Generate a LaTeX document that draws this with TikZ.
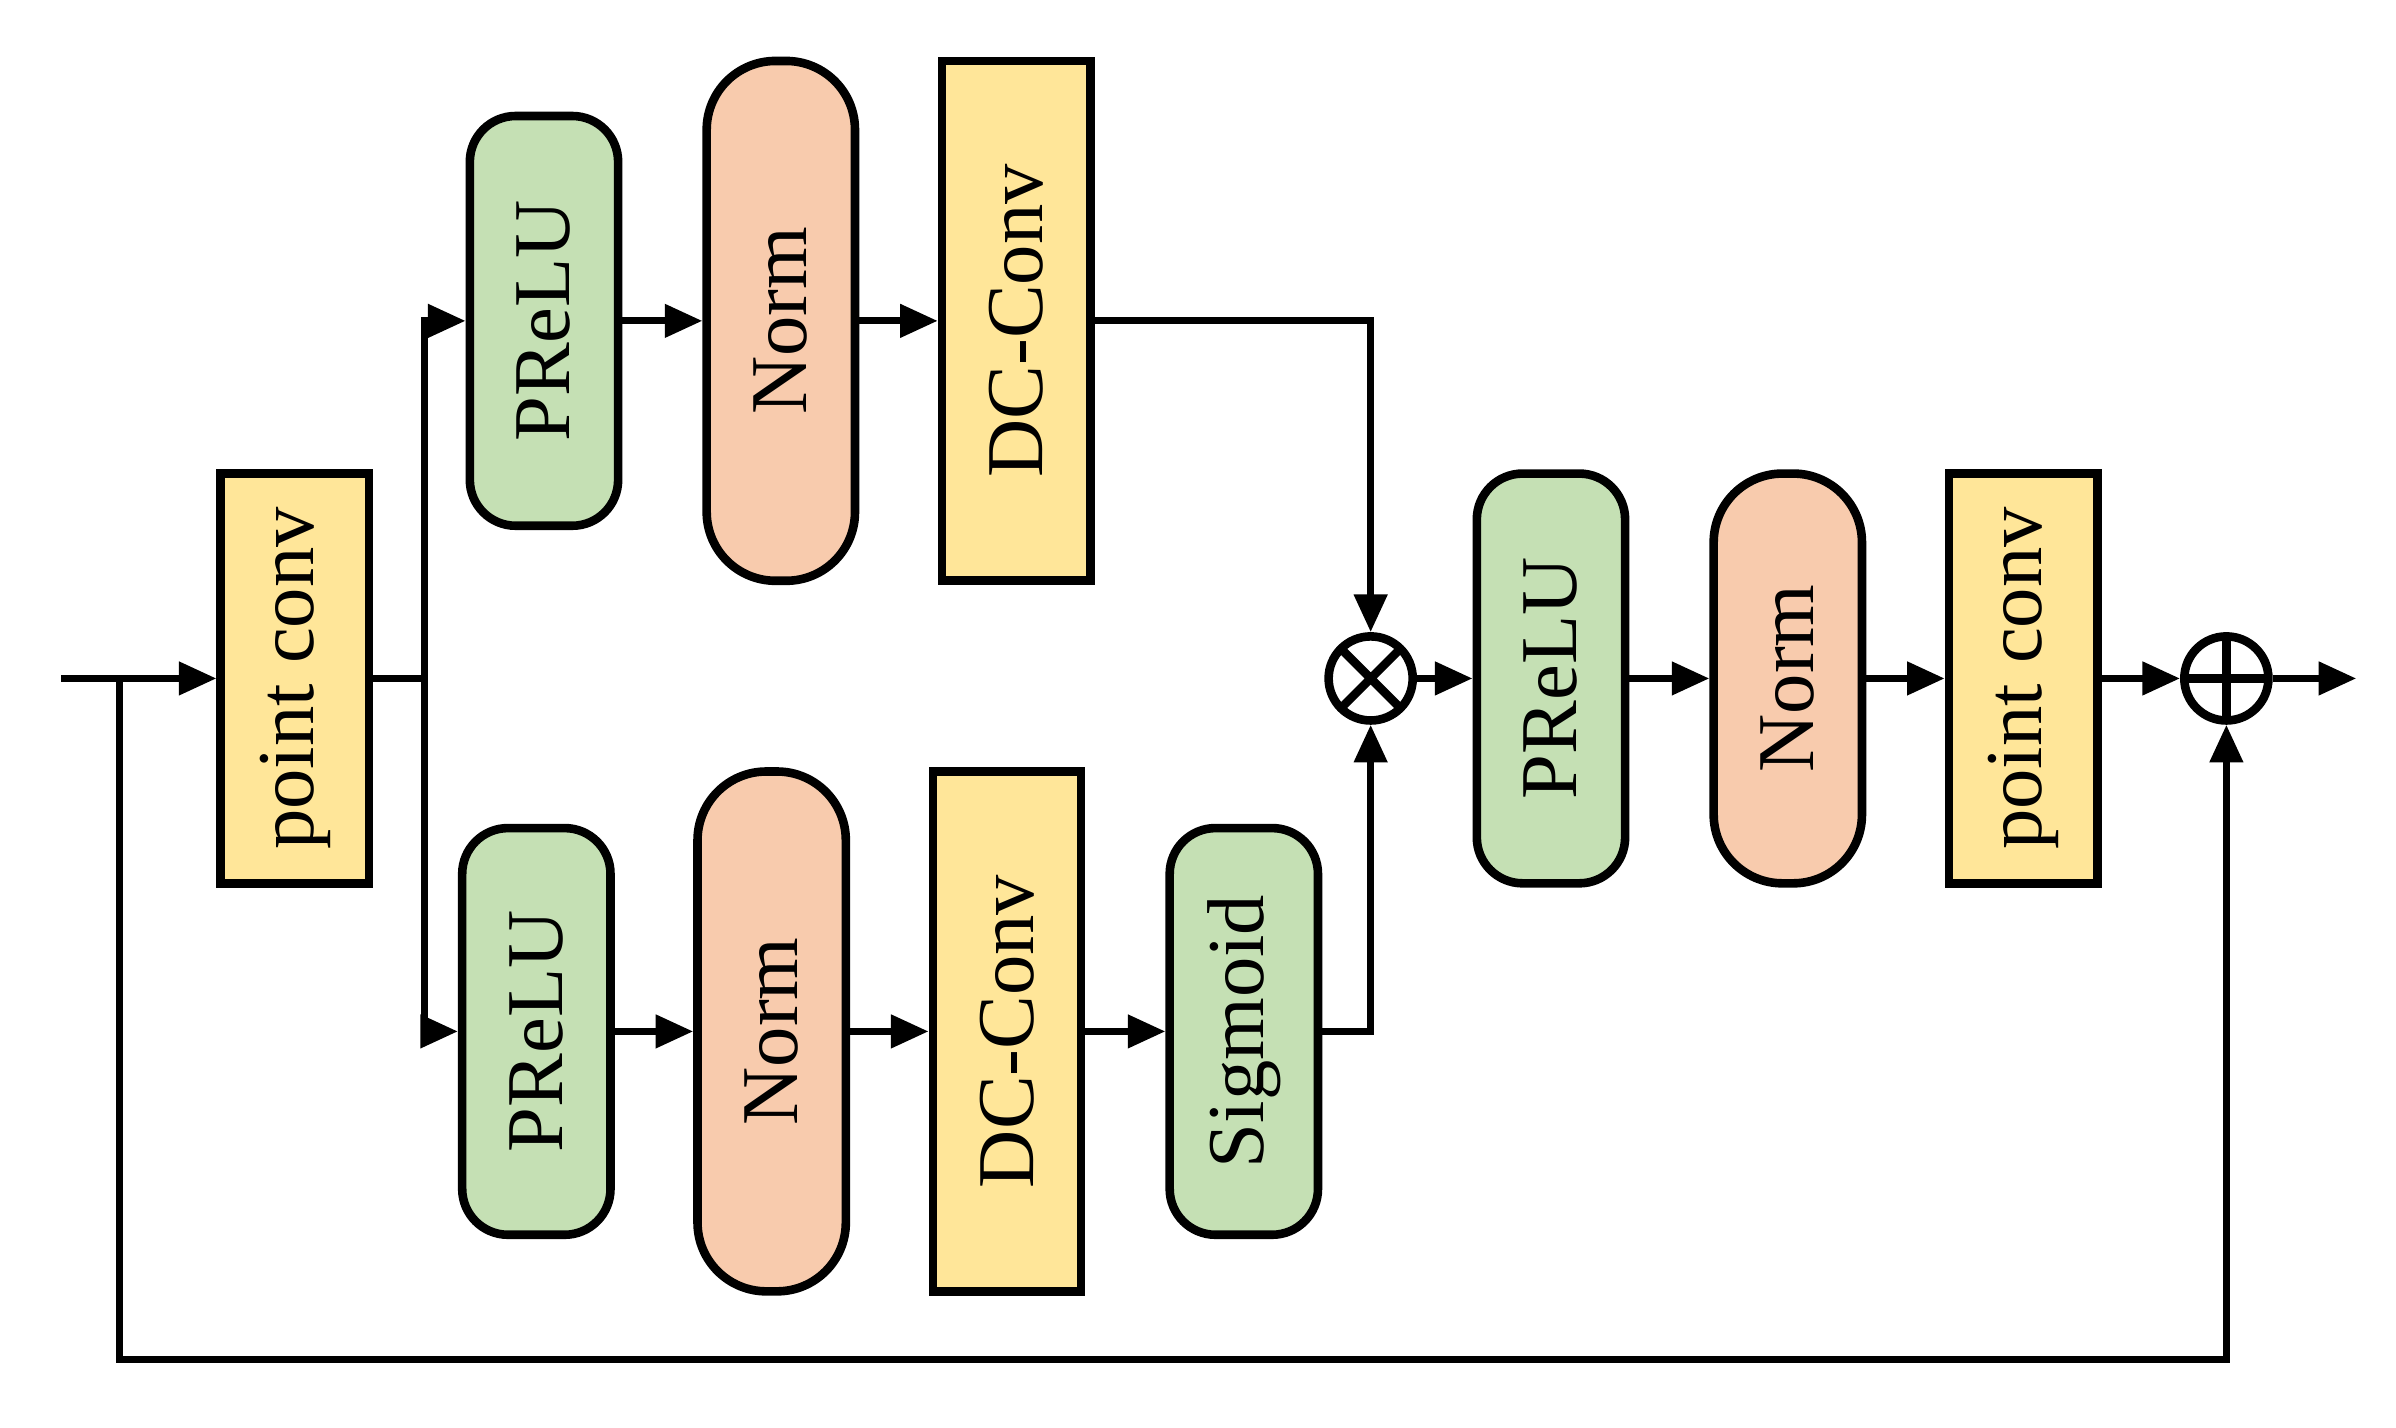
\documentclass[tikz,border=0pt]{standalone}
\usepackage{fontspec}
\setmainfont{Liberation Serif}
\usetikzlibrary{arrows.meta}
\definecolor{cg}{HTML}{C5E0B4}
\definecolor{co}{HTML}{F8CBAD}
\definecolor{cy}{HTML}{FFE699}
\begin{document}
\begin{tikzpicture}[x=0.01cm,y=-0.01cm,
  base/.style={draw,line width=1.6pt,inner sep=0pt,font=\fontsize{15}{18}\selectfont},
  yel/.style={base,fill=cy,minimum width=0.97cm},
  grn/.style={base,fill=cg,rounded corners=0.3cm,minimum width=0.97cm},
  org/.style={base,fill=co,rounded corners=0.45cm,minimum width=0.97cm,minimum height=3.4cm},
  ln/.style={line width=1.3pt},
  ar/.style={ln,-{Triangle[length=7pt,width=6pt]}},
  op/.style={draw,circle,line width=1.6pt,minimum size=0.55cm,inner sep=0pt}]
\useasboundingbox (0,0) rectangle (1568,934);
\node[yel,minimum height=2.68cm] (pc1) at (193,444) {\rotatebox{90}{point conv}};
\node[grn,minimum height=2.68cm] (p1) at (356,210) {\rotatebox{90}{PReLU}};
\node[org] (n1) at (511,210) {\rotatebox{90}{Norm}};
\node[yel,minimum height=3.4cm] (d1) at (665,210) {\rotatebox{90}{DC-Conv}};
\node[grn,minimum height=2.66cm] (p2) at (351,675) {\rotatebox{90}{PReLU}};
\node[org] (n2) at (505,675) {\rotatebox{90}{Norm}};
\node[yel,minimum height=3.4cm] (d2) at (659,675) {\rotatebox{90}{DC-Conv}};
\node[grn,minimum height=2.66cm] (sg) at (814,675) {\rotatebox{90}{Sigmoid}};
\node[op,path picture={\draw[line width=1.6pt] (path picture bounding box.north west)--(path picture bounding box.south east) (path picture bounding box.north east)--(path picture bounding box.south west);}] (mul) at (897,444) {};
\node[grn,minimum height=2.68cm] (p3) at (1015,444) {\rotatebox{90}{PReLU}};
\node[org,minimum height=2.68cm] (n3) at (1170,444) {\rotatebox{90}{Norm}};
\node[yel,minimum height=2.68cm] (pc2) at (1324,444) {\rotatebox{90}{point conv}};
\node[op,path picture={\draw[line width=1.6pt] (path picture bounding box.north)--(path picture bounding box.south) (path picture bounding box.east)--(path picture bounding box.west);}] (add) at (1457,444) {};
\coordinate (in) at (40,444);
\coordinate (fb) at (78,444);
\coordinate (bot) at (78,890);
\coordinate (br) at (278,444);
\coordinate (out) at (1542,444);
\draw[ar] (in) -- (pc1);
\draw[ln] (pc1.east) -- (br);
\draw[ar] (br) |- (p1.west);
\draw[ar] (br) |- (p2.west);
\draw[ar] (p1) -- (n1);
\draw[ar] (n1) -- (d1);
\draw[ar] (p2) -- (n2);
\draw[ar] (n2) -- (d2);
\draw[ar] (d2) -- (sg);
\draw[ar] (d1.east) -| (mul.north);
\draw[ar] (sg.east) -| (mul.south);
\draw[ar] (mul) -- (p3);
\draw[ar] (p3) -- (n3);
\draw[ar] (n3) -- (pc2);
\draw[ar] (pc2) -- (add);
\draw[ar] (add) -- (out);
\draw[ar] (fb) -- (bot) -| (add.south);
\end{tikzpicture}
\end{document}
